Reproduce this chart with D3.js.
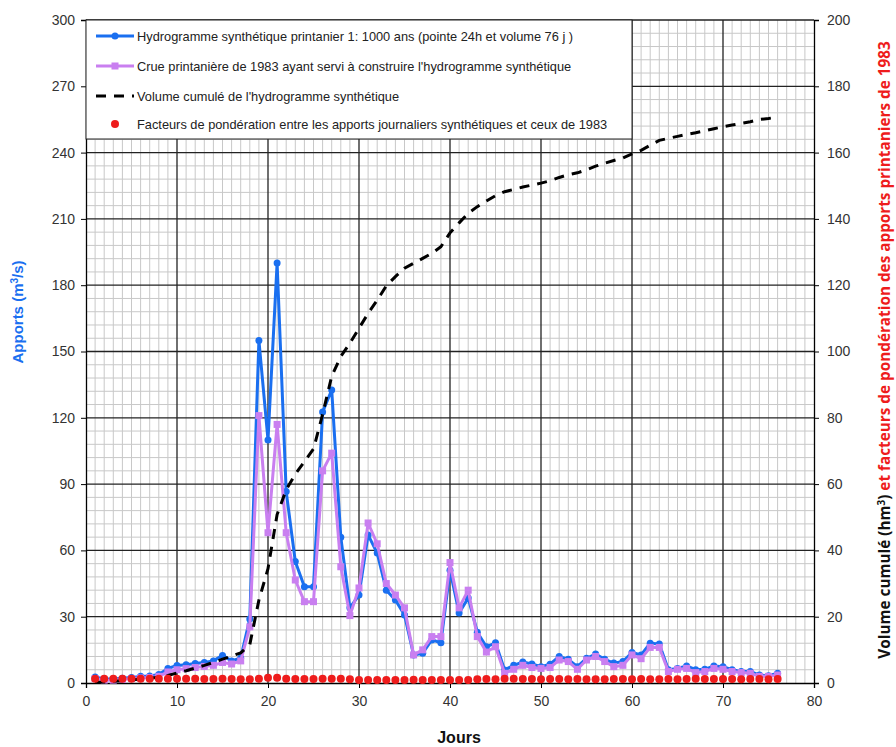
<!DOCTYPE html>
<html>
<head>
<meta charset="utf-8">
<script src="https://cdn.jsdelivr.net/npm/d3@7/dist/d3.min.js"></script>
<style>
  body { margin: 0; background: #fff; }
  svg { display: block; font-family: "Liberation Sans", Arial, sans-serif; }
</style>
</head>
<body>
<div id="chart"></div>
<script>
// jours 1..76
var jours = d3.range(1, 77);

// hydrogramme synthetique 1:1000 ans (m3/s)
var synth = [2.7,1.8,1.8,2.2,2.5,3,3.2,3.8,6.6,7.9,8.3,8.8,9.3,10,12.5,10,11.3,29,155,110,
  190,86.6,55,43.6,43.6,122.6,132.6,66,34,39.8,67,58.8,42,37.6,30.8,12.7,13.5,19.5,18.2,51,
  31.7,38.5,23,16.4,18.2,5.9,8,9.5,8.6,7.4,8.5,12,10.7,7.4,11.2,13.1,10.7,9,9.7,13.8,
  12.7,18,17.6,6,6.6,7.7,6,6.2,7.7,7.4,6,5.2,5.2,3.6,3.3,4.4];

// crue printaniere 1983 (m3/s)
var crue1983 = [2,1.3,1.3,1.6,2,2.3,2.5,3,5,6,6.5,7,7.5,8,9.3,8.6,10,25.4,121,68,
  117,68,46.6,36.8,36.8,96,104,52.6,30.5,43,72.4,63,45,39.8,34,12.7,15,21,21,54.5,
  34,42,21,14,16.4,4.4,6.2,8,7,6.6,7,10.4,9.7,6.2,10.4,12,9.7,7.4,8,12.7,
  11,16.1,16.1,5.2,6.2,6.6,4.7,5.2,6.6,6.2,5.2,4.7,4.4,3,3,3.6];

// volume cumule (hm3)
var volume = [0.2,0.3,0.5,0.7,0.9,1.2,1.4,1.7,2.3,3,3.7,4.5,5.3,6.2,7.2,8.1,9.1,11.6,25,34.5,
  50.8,58.3,63,66.8,70.6,81,92.5,98.5,102.5,107,111.5,115.5,119.8,122.6,125.1,126.6,128.1,129.6,131.6,135.8,
  138.8,141.7,143.7,145.4,147,148.2,148.9,149.6,150.2,150.8,151.5,152.5,153.3,153.9,154.8,155.9,156.8,157.6,158.4,159.6,
  160.7,162.2,163.7,164.3,164.9,165.5,166,166.6,167.2,167.8,168.3,168.8,169.3,170,170.3,170.7];

// facteurs de ponderation
var facteurs = [1.3,1.3,1.3,1.3,1.3,1.3,1.3,1.3,1.3,1.3,1.3,1.3,1.2,1.2,1.3,1.2,1.1,1.1,1.3,1.6,
  1.6,1.3,1.2,1.2,1.2,1.3,1.3,1.3,1.1,0.9,0.9,0.9,0.9,0.9,0.9,1,0.9,0.9,0.9,0.9,
  0.9,0.9,1.1,1.2,1.1,1.3,1.3,1.2,1.2,1.1,1.2,1.2,1.1,1.2,1.1,1.1,1.1,1.2,1.2,1.1,
  1.2,1.1,1.1,1.2,1.1,1.2,1.3,1.2,1.2,1.2,1.2,1.1,1.2,1.2,1.1,1.2];

var xTicks = d3.range(0, 81, 10);
var yLeftTicks = d3.range(0, 301, 30);
var yRightTicks = d3.range(0, 201, 20);

var legendLabels = [
  "Hydrogramme synthétique printanier 1: 1000 ans (pointe 24h et volume 76 j )",
  "Crue printanière de 1983 ayant servi à construire l'hydrogramme synthétique",
  "Volume cumulé de l'hydrogramme synthétique",
  "Facteurs de pondération entre les apports journaliers synthétiques et ceux de 1983"
];

var blue = "#1a6ff0", violet = "#c97ff0", red = "#ee1c1c";

var margin = {top: 20, right: 82, bottom: 64, left: 86},
    width = 896 - margin.left - margin.right,
    height = 747 - margin.top - margin.bottom;

var x = d3.scaleLinear().domain([0, 80]).range([0, width]);
var y = d3.scaleLinear().domain([0, 300]).range([height, 0]);
var y2 = d3.scaleLinear().domain([0, 200]).range([height, 0]);

var svg = d3.select("#chart").append("svg")
    .attr("width", 896)
    .attr("height", 747);

var g = svg.append("g")
    .attr("transform", "translate(" + margin.left + "," + margin.top + ")");

// minor grid
g.append("g").selectAll("line")
    .data(d3.range(1, 80).filter(function(d) { return d % 10 != 0; }))
  .enter().append("line")
    .attr("x1", function(d) { return x(d); })
    .attr("x2", function(d) { return x(d); })
    .attr("y1", 0).attr("y2", height)
    .attr("stroke", "#c8c8c8").attr("stroke-width", 1);

g.append("g").selectAll("line")
    .data(d3.range(6, 300, 6).filter(function(d) { return d % 30 != 0; }))
  .enter().append("line")
    .attr("x1", 0).attr("x2", width)
    .attr("y1", function(d) { return y(d); })
    .attr("y2", function(d) { return y(d); })
    .attr("stroke", "#c8c8c8").attr("stroke-width", 1);

// major grid
g.append("g").selectAll("line")
    .data(xTicks.slice(1, -1))
  .enter().append("line")
    .attr("x1", function(d) { return x(d); })
    .attr("x2", function(d) { return x(d); })
    .attr("y1", 0).attr("y2", height)
    .attr("stroke", "#222").attr("stroke-width", 1.3);

g.append("g").selectAll("line")
    .data(yLeftTicks.slice(1))
  .enter().append("line")
    .attr("x1", 0).attr("x2", width)
    .attr("y1", function(d) { return y(d); })
    .attr("y2", function(d) { return y(d); })
    .attr("stroke", "#222").attr("stroke-width", 1.3);

// axes
var xAxis = g.append("g")
    .attr("transform", "translate(0," + height + ")")
    .call(d3.axisBottom(x).tickValues(xTicks).tickSize(5).tickPadding(8));
var yAxis = g.append("g")
    .call(d3.axisLeft(y).tickValues(yLeftTicks).tickSize(5).tickPadding(6));
var yAxis2 = g.append("g")
    .attr("transform", "translate(" + width + ",0)")
    .call(d3.axisRight(y2).tickValues(yRightTicks).tickSize(5).tickPadding(8));

[xAxis, yAxis, yAxis2].forEach(function(a) {
  a.selectAll("path").attr("stroke", "#000").attr("stroke-width", 1.3);
  a.selectAll("line").attr("stroke", "#000");
  a.selectAll("text").attr("fill", "#333").style("font-size", "14px")
    .style("font-family", "'Liberation Sans', Arial, sans-serif");
});

// series
var lineSynth = d3.line()
    .x(function(d, i) { return x(jours[i]); })
    .y(function(d) { return y(d); });
var lineVol = d3.line()
    .x(function(d, i) { return x(jours[i]); })
    .y(function(d) { return y2(d); });

g.append("path")
    .datum(synth)
    .attr("fill", "none")
    .attr("stroke", blue)
    .attr("stroke-width", 3)
    .attr("stroke-linejoin", "round")
    .attr("d", lineSynth);
g.append("g").selectAll("circle")
    .data(synth)
  .enter().append("circle")
    .attr("cx", function(d, i) { return x(jours[i]); })
    .attr("cy", function(d) { return y(d); })
    .attr("r", 3.5)
    .attr("fill", blue);

g.append("path")
    .datum(crue1983)
    .attr("fill", "none")
    .attr("stroke", violet)
    .attr("stroke-width", 3)
    .attr("stroke-linejoin", "round")
    .attr("d", lineSynth);
g.append("g").selectAll("rect")
    .data(crue1983)
  .enter().append("rect")
    .attr("x", function(d, i) { return x(jours[i]) - 3.5; })
    .attr("y", function(d) { return y(d) - 3.5; })
    .attr("width", 7).attr("height", 7)
    .attr("fill", violet);

g.append("path")
    .datum(volume)
    .attr("fill", "none")
    .attr("stroke", "#000")
    .attr("stroke-width", 3)
    .attr("stroke-dasharray", "10,8")
    .attr("d", lineVol);

g.append("g").selectAll("circle")
    .data(facteurs)
  .enter().append("circle")
    .attr("cx", function(d, i) { return x(jours[i]); })
    .attr("cy", function(d) { return y2(d); })
    .attr("r", 4)
    .attr("fill", red);

// legend
var legend = g.append("g");
legend.append("rect")
    .attr("x", 0).attr("y", 0)
    .attr("width", 546).attr("height", 119)
    .attr("fill", "#fff")
    .attr("stroke", "#222").attr("stroke-width", 1);

var rowY = [16, 46, 76, 104];
legendLabels.forEach(function(lbl, i) {
  var r = legend.append("g").attr("transform", "translate(0," + rowY[i] + ")");
  if (i == 0) {
    r.append("line").attr("x1", 10).attr("x2", 48).attr("stroke", blue).attr("stroke-width", 3);
    r.append("circle").attr("cx", 29).attr("r", 3.5).attr("fill", blue);
  } else if (i == 1) {
    r.append("line").attr("x1", 10).attr("x2", 48).attr("stroke", violet).attr("stroke-width", 3);
    r.append("rect").attr("x", 25.5).attr("y", -3.5).attr("width", 7).attr("height", 7).attr("fill", violet);
  } else if (i == 2) {
    r.append("line").attr("x1", 10).attr("x2", 48).attr("stroke", "#000")
      .attr("stroke-width", 3).attr("stroke-dasharray", "10,8");
  } else {
    r.append("circle").attr("cx", 29).attr("r", 4).attr("fill", red);
  }
  r.append("text")
      .attr("x", 51).attr("y", 4.5)
      .attr("fill", "#222")
      .style("font-size", "12.8px")
      .text(lbl);
});

// axis titles
var t1 = svg.append("text")
    .attr("transform", "translate(23," + 312 + ") rotate(-90)")
    .attr("text-anchor", "middle")
    .attr("fill", blue)
    .style("font-size", "15px")
    .style("font-weight", "bold");
t1.append("tspan").text("Apports (m");
t1.append("tspan").attr("dy", -5).style("font-size", "10px").text("3");
t1.append("tspan").attr("dy", 5).text("/s)");

var t2 = svg.append("text")
    .attr("transform", "translate(890," + 350 + ") rotate(-90)")
    .attr("text-anchor", "middle")
    .style("font-family", "'Open Sans', sans-serif")
    .style("font-size", "15.3px")
    .style("font-weight", "bold");
t2.append("tspan").attr("fill", "#111").text("Volume cumulé (hm");
t2.append("tspan").attr("fill", "#111").attr("dy", -5).style("font-size", "10px").text("3");
t2.append("tspan").attr("fill", "#111").attr("dy", 5).text(") ");
t2.append("tspan").attr("fill", red).text("et facteurs de pondération des apports printaniers de 1983");

svg.append("text")
    .attr("x", 459).attr("y", 743)
    .attr("text-anchor", "middle")
    .attr("fill", "#111")
    .style("font-size", "16px")
    .style("font-weight", "bold")
    .text("Jours");
</script>
</body>
</html>
